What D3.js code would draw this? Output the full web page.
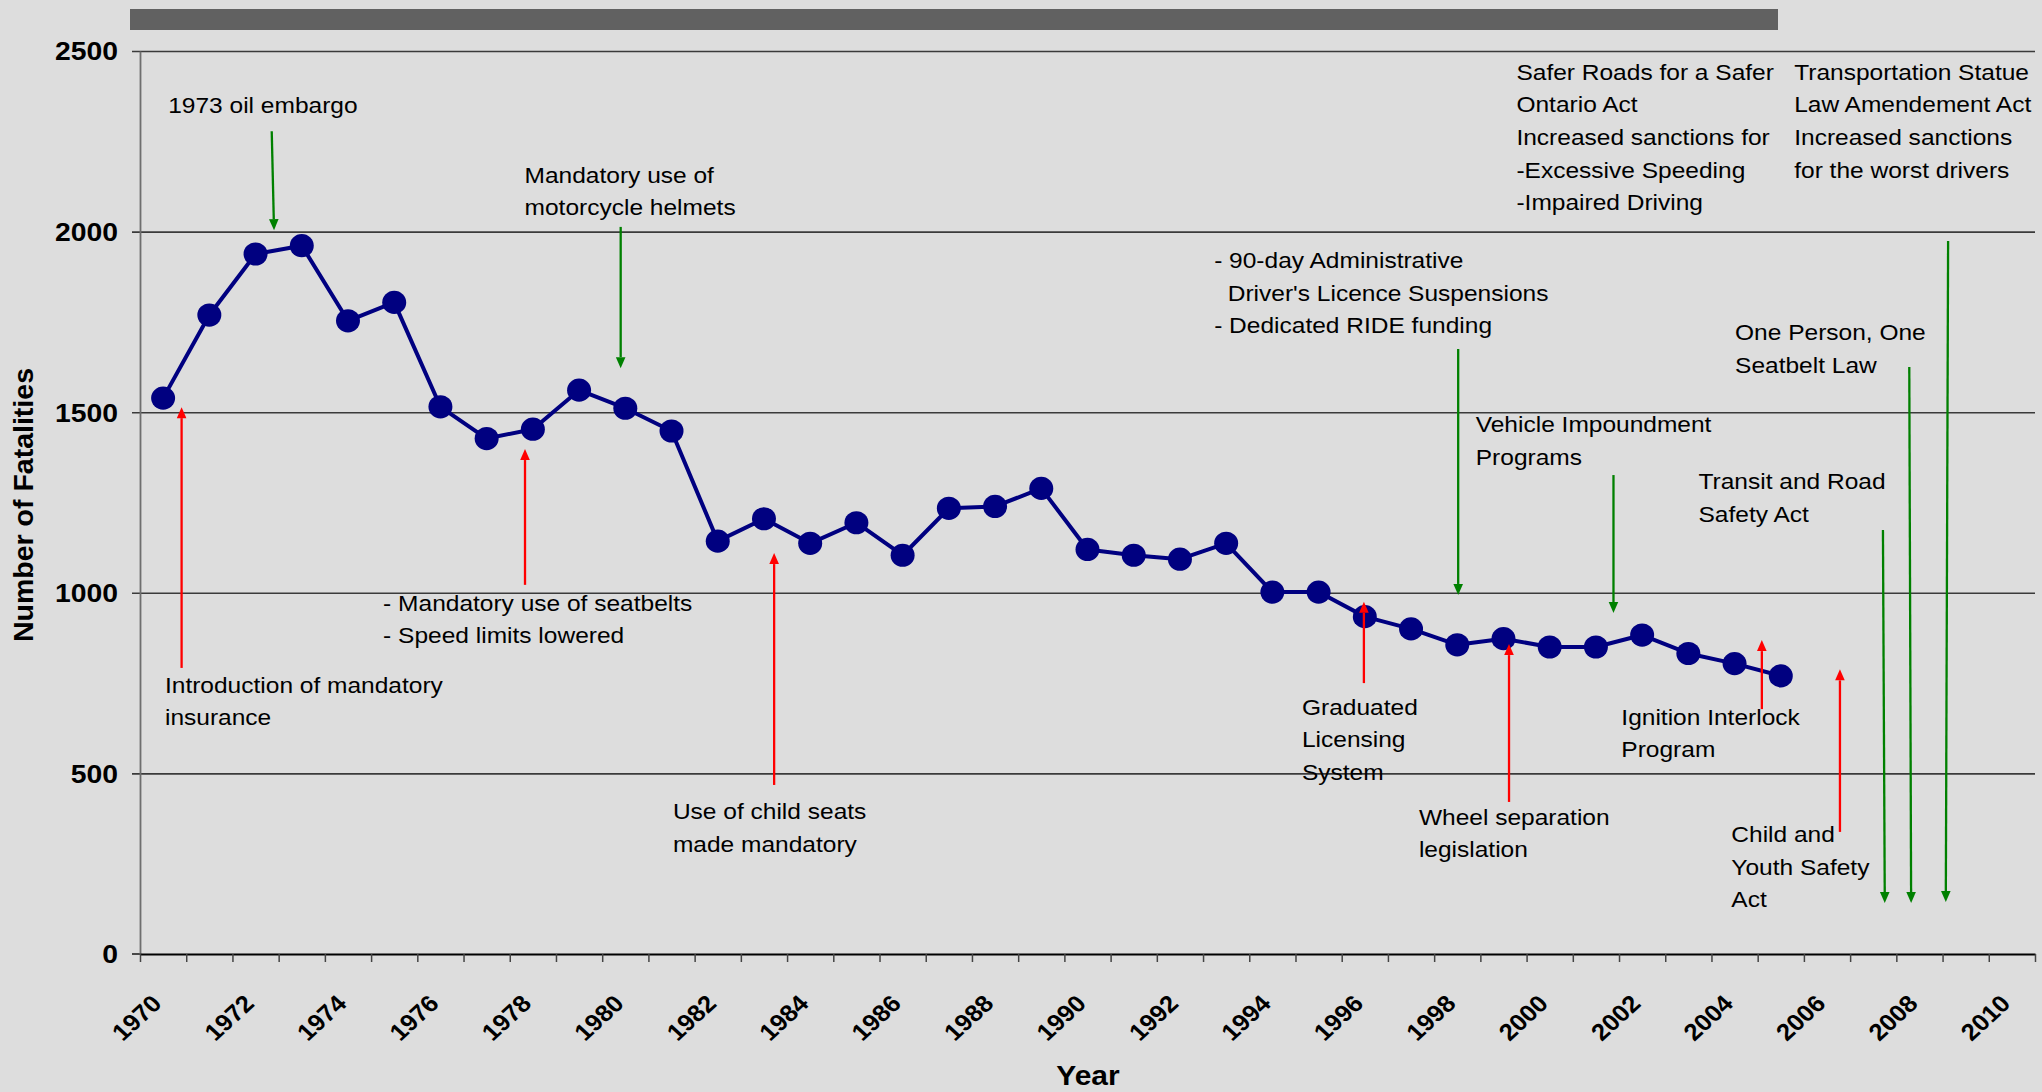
<!DOCTYPE html>
<html><head><meta charset="utf-8">
<script src="https://cdn.jsdelivr.net/npm/d3@7"></script>
<style>
html,body{margin:0;padding:0;background:#dddddd;overflow:hidden;}
svg{display:block;}
text{font-family:"Liberation Sans",Arial,Helvetica,sans-serif;fill:#000;}
</style></head><body>
<svg id="chart" width="2042" height="1092"></svg>
<script>
// ---- data ----
const categories = [1970,1971,1972,1973,1974,1975,1976,1977,1978,1979,1980,1981,1982,1983,1984,1985,1986,1987,1988,1989,1990,1991,1992,1993,1994,1995,1996,1997,1998,1999,2000,2001,2002,2003,2004,2005,2006,2007,2008,2009,2010];
const dataYears = [1970,1971,1972,1973,1974,1975,1976,1977,1978,1979,1980,1981,1982,1983,1984,1985,1986,1987,1988,1989,1990,1991,1992,1993,1994,1995,1996,1997,1998,1999,2000,2001,2002,2003,2004,2005];
const fatalities = [1539,1769,1938,1961,1753,1804,1515,1427,1453,1561,1511,1448,1143,1205,1137,1194,1104,1234,1239,1289,1120,1104,1093,1137,1002,1002,934,900,856,873,850,850,883,832,804,770];
const xTickLabels = [1970,1972,1974,1976,1978,1980,1982,1984,1986,1988,1990,1992,1994,1996,1998,2000,2002,2004,2006,2008,2010];
const yTickValues = [0,500,1000,1500,2000,2500];

// annotation texts (anchored in year / value units)
const annotations = [
  {lines:["1973 oil embargo"], year:1970.11, value:2328},
  {lines:["Mandatory use of","motorcycle helmets"], year:1977.82, value:2135},
  {lines:["Introduction of mandatory","insurance"], year:1970.04, value:723},
  {lines:["- Mandatory use of seatbelts","- Speed limits lowered"], year:1974.76, value:950},
  {lines:["Use of child seats","made mandatory"], year:1981.03, value:374},
  {lines:["- 90-day Administrative","\u00a0\u00a0Driver's Licence Suspensions","- Dedicated RIDE funding"], year:1992.74, value:1899},
  {lines:["Vehicle Impoundment","Programs"], year:1998.40, value:1445},
  {lines:["Graduated","Licensing","System"], year:1994.64, value:662},
  {lines:["Wheel separation","legislation"], year:1997.17, value:358},
  {lines:["Ignition Interlock","Program"], year:2001.55, value:635},
  {lines:["Transit and Road","Safety Act"], year:2003.22, value:1286},
  {lines:["Child and","Youth Safety","Act"], year:2003.93, value:310},
  {lines:["One Person, One","Seatbelt Law"], year:2004.01, value:1700},
  {lines:["Safer Roads for a Safer","Ontario Act","Increased sanctions for","-Excessive Speeding","-Impaired Driving"], year:1999.28, value:2420},
  {lines:["Transportation Statue","Law Amendement Act","Increased sanctions","for the worst drivers"], year:2005.29, value:2420}
];
// arrows: from (y1,v1) tail to (y2,v2) tip
const greenArrows = [
  {y1:1972.35,v1:2278,y2:1972.40,v2:2004},
  {y1:1979.90,v1:2013,y2:1979.90,v2:1622},
  {y1:1998.02,v1:1675,y2:1998.02,v2:994},
  {y1:2001.38,v1:1326,y2:2001.38,v2:944},
  {y1:2007.21,v1:1174,y2:2007.25,v2:141},
  {y1:2007.78,v1:1625,y2:2007.82,v2:141},
  {y1:2008.62,v1:1974,y2:2008.57,v2:144}
];
const redArrows = [
  {y1:1970.40,v1:792,y2:1970.40,v2:1514},
  {y1:1977.83,v1:1022,y2:1977.83,v2:1398},
  {y1:1983.22,v1:468,y2:1983.22,v2:1110},
  {y1:1995.98,v1:750,y2:1995.98,v2:975},
  {y1:1999.12,v1:421,y2:1999.12,v2:858},
  {y1:2004.59,v1:678,y2:2004.59,v2:869},
  {y1:2006.28,v1:338,y2:2006.28,v2:788}
];

// ---- layout ----
const W = 2042, H = 1092;
const plotL = 140, plotR = 2035, plotT = 51, plotB = 954;
const SX = 1.09; // horizontal text stretch

const svg = d3.select("#chart");
svg.append("rect").attr("width",W).attr("height",H).attr("fill","#dddddd");

const x = d3.scaleLinear().domain([categories[0]-0.5, categories[categories.length-1]+0.5]).range([plotL, plotR]);
const y = d3.scaleLinear().domain([0,2500]).range([plotB, plotT]);

// top bar
svg.append("rect").attr("x",130).attr("y",9).attr("width",1648).attr("height",21).attr("fill","#616161");

// gridlines + y ticks
const grid = svg.append("g").attr("transform",`translate(${plotL-8},0)`)
  .call(d3.axisLeft(y).tickValues(yTickValues.filter(v=>v>0)).tickSize(-(plotR-plotL+8)).tickFormat(""));
grid.select(".domain").remove();
grid.selectAll(".tick line").attr("stroke","#3a3a3a").attr("stroke-width",1.6);

// y tick at 0
svg.append("line").attr("x1",plotL-8).attr("x2",plotL).attr("y1",y(0)).attr("y2",y(0)).attr("stroke","#222").attr("stroke-width",1.6);

// y axis line
const yAxisG = svg.append("g").attr("transform",`translate(${plotL},0)`)
  .call(d3.axisLeft(y).tickValues([]).tickSizeOuter(0));
yAxisG.select(".domain").attr("stroke","#6e6e6e").attr("stroke-width",1.8);

// y tick labels
svg.append("g").selectAll("text").data(yTickValues).join("text")
  .attr("transform", d=>`translate(118,${y(d)}) scale(${SX},1)`)
  .attr("dy","0.36em").attr("text-anchor","end")
  .style("font-size","26px").style("font-weight","bold")
  .text(d=>d);

// x axis with ticks at category boundaries
const xAxisG = svg.append("g").attr("transform",`translate(0,${plotB})`)
  .call(d3.axisBottom(x).tickValues(d3.range(categories.length+1).map(i=>categories[0]-0.5+i)).tickSize(8).tickSizeOuter(0).tickFormat(""));
xAxisG.select(".domain").attr("stroke","#000").attr("stroke-width",2);
xAxisG.selectAll(".tick line").attr("stroke","#444").attr("stroke-width",1.5);

// x tick labels (rotated)
svg.append("g").selectAll("text").data(xTickLabels).join("text")
  .attr("transform", d=>`translate(${x(d)},1005) scale(${SX},1) rotate(-45)`)
  .attr("text-anchor","end")
  .style("font-size","23.5px").style("font-weight","bold")
  .text(d=>d);

// axis titles
svg.append("text").attr("transform",`translate(1088,1085) scale(${SX},1)`)
  .attr("text-anchor","middle").style("font-size","27.5px").style("font-weight","bold").text("Year");
svg.append("text").attr("transform",`translate(33,505) rotate(-90)`)
  .attr("text-anchor","middle").style("font-size","28.5px").style("font-weight","bold").text("Number of Fatalities");

// data line
const series = dataYears.map((yr,i)=>({yr, v:fatalities[i]}));
svg.append("path").datum(series)
  .attr("fill","none").attr("stroke","#000080").attr("stroke-width",4).attr("stroke-linejoin","round")
  .attr("d", d3.line().x(d=>x(d.yr)).y(d=>y(d.v)));
svg.append("g").selectAll("ellipse").data(series).join("ellipse")
  .attr("cx",d=>x(d.yr)).attr("cy",d=>y(d.v)).attr("rx",12).attr("ry",11.6).attr("fill","#000080");

// arrows
function drawArrows(list, color){
  const g = svg.append("g");
  list.forEach(a=>{
    const x1=x(a.y1), y1=y(a.v1), x2=x(a.y2), y2=y(a.v2);
    const ang = Math.atan2(y2-y1, x2-x1);
    const L=11, hw=4.8;
    const bx = x2 - L*Math.cos(ang), by = y2 - L*Math.sin(ang);
    g.append("line").attr("x1",x1).attr("y1",y1).attr("x2",bx).attr("y2",by)
      .attr("stroke",color).attr("stroke-width",2.3);
    const px = -Math.sin(ang)*hw, py = Math.cos(ang)*hw;
    g.append("path").attr("d",`M${x2},${y2}L${bx+px},${by+py}L${bx-px},${by-py}Z`).attr("fill",color);
  });
}
drawArrows(greenArrows, "#008000");
drawArrows(redArrows, "#ff0000");

// annotation texts
const LH = 32.6;
const ag = svg.append("g");
annotations.forEach(a=>{
  a.lines.forEach((ln,i)=>{
    ag.append("text")
      .attr("transform",`translate(${x(a.year)},${y(a.value)+i*LH}) scale(${SX},1)`)
      .style("font-size","22.5px")
      .text(ln);
  });
});
</script>
</body></html>
